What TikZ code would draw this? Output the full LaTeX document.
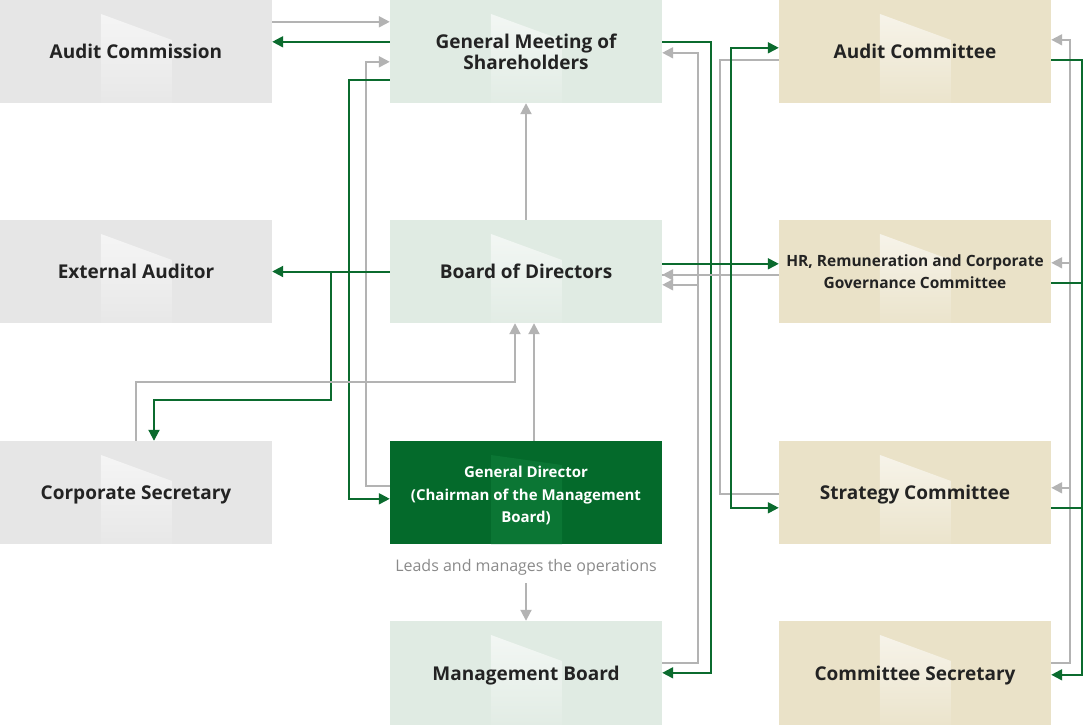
\documentclass[tikz,border=0pt]{standalone}
\usepackage{fontspec}
\setmainfont{Open Sans}
\usetikzlibrary{arrows.meta,calc,fadings}
\definecolor{boxgrey}{HTML}{E6E6E6}
\definecolor{boxmint}{HTML}{E0EBE3}
\definecolor{boxsand}{HTML}{EAE2C8}
\definecolor{darkgr}{HTML}{046A2B}
\definecolor{bandgr}{HTML}{0B7634}
\definecolor{lgreen}{HTML}{0B6B2E}
\definecolor{lgrey}{HTML}{B3B3B3}
\definecolor{txt}{HTML}{232323}
\definecolor{leadtxt}{HTML}{8A8A8A}
\tikzfading[name=topglow, top color=transparent!30, bottom color=transparent!92]
\tikzset{
  orgbox/.style={minimum width=272pt, minimum height=103pt, inner sep=0pt, align=center,
    text=txt, font=\bfseries\fontsize{19}{21}\selectfont,
    path picture={\fill[white, path fading=topglow]
      ([shift={(101,14)}]path picture bounding box.north west) --
      ([shift={(172,40)}]path picture bounding box.north west) --
      ([shift={(172,0)}]path picture bounding box.south west) --
      ([shift={(101,0)}]path picture bounding box.south west) -- cycle;}},
  oneline/.style={text depth=0pt},
  greybox/.style={orgbox, fill=boxgrey},
  mintbox/.style={orgbox, fill=boxmint},
  sandbox/.style={orgbox, fill=boxsand},
  gdbox/.style={minimum width=272pt, minimum height=103pt, inner sep=0pt,
    fill=darkgr, text=white, font=\bfseries\fontsize{15}{22.5}\selectfont,
    path picture={\fill[bandgr]
      ([shift={(101,14)}]path picture bounding box.north west) --
      ([shift={(172,24)}]path picture bounding box.north west) --
      ([shift={(172,0)}]path picture bounding box.south west) --
      ([shift={(101,0)}]path picture bounding box.south west) -- cycle;}},
  gline/.style={draw=lgreen, line width=2pt, -{Triangle[length=11pt,width=11pt]}},
  gplain/.style={draw=lgreen, line width=2pt},
  yline/.style={draw=lgrey, line width=2pt, -{Triangle[length=11pt,width=11pt]}},
  yplain/.style={draw=lgrey, line width=2pt},
}
\begin{document}
\begin{tikzpicture}[x=1pt, y=-1pt]
\useasboundingbox (0,0) rectangle (1083,725);
% left column
\node[greybox, oneline] (ac) at (136,51.5) {Audit Commission};
\node[greybox, oneline] (ea) at (136,271.5) {External Auditor};
\node[greybox, oneline] (cs) at (136,492.5) {Corporate Secretary};
% middle column
\node[mintbox] (gms) at (526,51.5) {General Meeting of\\Shareholders};
\node[mintbox, oneline] (bod) at (526,271.5) {Board of Directors};
\node[gdbox] (gd) at (526,492.5) {\raisebox{-3pt}[\height][\depth]{\begin{tabular}{@{}c@{}}General Director\\(Chairman of the Management\\Board)\end{tabular}}};
\node[mintbox, oneline, minimum height=104pt] (mb) at (526,673) {Management Board};
% right column
\node[sandbox, oneline] (acm) at (915,51.5) {Audit Committee};
\node[sandbox, font=\bfseries\fontsize{15.5}{22}\selectfont] (hr) at (915,271.5) {HR, Remuneration and Corporate\\Governance Committee};
\node[sandbox, oneline] (st) at (915,492.5) {Strategy Committee};
\node[sandbox, oneline, minimum height=104pt] (sec) at (915,673) {Committee Secretary};
% lead text
\node[text=leadtxt, font=\fontsize{16}{19}\selectfont, inner sep=0pt] (lead) at (526,567) {Leads and manages the operations};

% left-middle connectors
\draw[yline] ($(ac.north east)+(0,22)$) -- ($(gms.north west)+(0,22)$);
\draw[gline] ($(gms.north west)+(0,42)$) -- ($(ac.north east)+(0,42)$);
\draw[yline] ($(gd.north west)+(0,45)$) -- ++(-24,0) |- ($(gms.north west)+(0,62)$);
\draw[gline] ($(gms.north west)+(0,80)$) -- ++(-41,0) |- ($(gd.north west)+(0,58)$);
\draw[yline] (bod.north) -- (gms.south);
\draw[gline] (bod.west) -- (ea.east);
\draw[gline] ($(ea.east)+(59,0)$) -- ++(0,128.5) -| ($(cs.north)+(18,0)$);
\draw[yline] (cs.north) -- ++(0,-59) -| ($(bod.south)+(-11,0)$);
\draw[yline] ($(gd.north)+(8,0)$) -- ($(bod.south)+(8,0)$);
\draw[yline] ($(lead.south)+(0,8)$) -- (mb.north);

% middle-right connectors
\draw[yline] ($(mb.north east)+(0,42)$) -- ++(36,0) |- ($(gms.north east)+(0,53)$);
\draw[yline] ($(bod.north east)+(36,65)$) -- ($(bod.north east)+(0,65)$);
\draw[gline] ($(gms.north east)+(0,42)$) -- ++(49,0) |- ($(mb.north east)+(0,52)$);
\draw[yplain] ($(acm.north west)+(0,60)$) -- ++(-59,0) |- ($(bod.north east)+(0,55)$);
\draw[yplain] ($(st.north west)+(0,53)$) -- ++(-59,0) |- ($(bod.north east)+(0,55)$);
\draw[yline] ($(hr.north west)+(0,55)$) -- ($(bod.north east)+(0,55)$);
\draw[gline] ($(bod.north east)+(0,44)$) -- ($(hr.north west)+(0,44)$);
\draw[gline] ($(bod.north east)+(69,44)$) |- ($(acm.north west)+(0,48)$);
\draw[gline] ($(bod.north east)+(69,44)$) |- ($(st.north west)+(0,67)$);

% right-side connectors
\draw[yline] ($(sec.north east)+(0,42)$) -- ++(19,0) |- ($(acm.north east)+(0,40)$);
\draw[yline] ($(hr.north east)+(19,43)$) -- ($(hr.north east)+(0,43)$);
\draw[yline] ($(st.north east)+(19,47)$) -- ($(st.north east)+(0,47)$);
\draw[gline] ($(acm.north east)+(0,60)$) -- ++(31,0) |- ($(sec.north east)+(0,54)$);
\draw[gplain] ($(hr.north east)+(0,63)$) -- ++(31,0);
\draw[gplain] ($(st.north east)+(0,67)$) -- ++(31,0);
\end{tikzpicture}
\end{document}
